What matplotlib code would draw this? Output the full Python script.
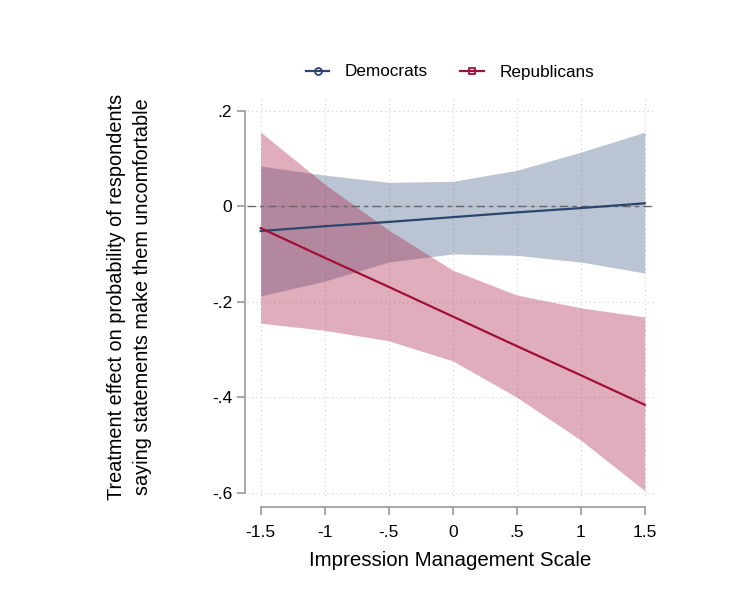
import matplotlib
matplotlib.use("Agg")
import matplotlib.pyplot as plt
import numpy as np

plt.rcParams['font.family'] = ['Liberation Sans', 'DejaVu Sans']

x = [-1.5, -1.0, -0.5, 0.0, 0.5, 1.0, 1.5]
dem_est = [-0.052, -0.042, -0.033, -0.023, -0.013, -0.004, 0.006]
dem_lo = [-0.188, -0.157, -0.117, -0.100, -0.103, -0.117, -0.140]
dem_hi = [0.084, 0.065, 0.050, 0.052, 0.075, 0.113, 0.155]
rep_est = [-0.046, -0.108, -0.169, -0.231, -0.293, -0.354, -0.416]
rep_lo = [-0.245, -0.260, -0.282, -0.324, -0.400, -0.490, -0.596]
rep_hi = [0.155, 0.046, -0.050, -0.134, -0.186, -0.213, -0.232]

xticks = [-1.5, -1, -0.5, 0, 0.5, 1, 1.5]
xticklabels = ["-1.5", "-1", "-.5", "0", ".5", "1", "1.5"]
yticks = [0.2, 0, -0.2, -0.4, -0.6]
yticklabels = [".2", "0", "-.2", "-.4", "-.6"]

dem_col = (0.17, 0.27, 0.43)
rep_col = (0.64, 0.06, 0.23)
dem_fill = (58/255, 86/255, 126/255)
rep_fill = (166/255, 21/255, 61/255)

fig = plt.figure(figsize=(7.5, 6), dpi=100)
ax = fig.add_axes([0.329, 0.167, 0.544, 0.67])

ax.fill_between(x, dem_lo, dem_hi, color=dem_fill, alpha=0.35, linewidth=0, zorder=1)
ax.fill_between(x, rep_lo, rep_hi, color=rep_fill, alpha=0.35, linewidth=0, zorder=2)
ax.axhline(0, color='#666666', linestyle=(0, (6, 3, 3, 3)), linewidth=1.0, zorder=3)
ax.plot(x, dem_est, color=dem_col, linewidth=1.6, zorder=4)
ax.plot(x, rep_est, color=rep_col, linewidth=1.6, zorder=5)

ax.set_xlim(-1.609, 1.578)
ax.set_ylim(-0.615, 0.227)

ax.set_xticks(xticks)
ax.set_xticklabels(xticklabels)
ax.set_yticks(yticks)
ax.set_yticklabels(yticklabels)

ax.grid(True, color='#cccccc', linestyle=(0, (1, 3)), linewidth=0.8, zorder=0)
ax.set_axisbelow(True)

for s in ['top', 'right']:
    ax.spines[s].set_visible(False)
ax.spines['bottom'].set_bounds(-1.5, 1.5)
ax.spines['left'].set_bounds(-0.6, 0.2)
ax.spines['bottom'].set_position(('outward', 5))
ax.spines['left'].set_position(('outward', 1))
for s in ['bottom', 'left']:
    ax.spines[s].set_color('#999999')
    ax.spines[s].set_linewidth(1.2)
ax.tick_params(axis='both', direction='out', length=6, width=1.2, color='#999999',
               labelsize=12.5, labelcolor='black')
ax.tick_params(axis='x', pad=7)

fig.text(0.173, 0.505, "Treatment effect on probability of respondents\nsaying statements make them uncomfortable",
         rotation=90, ha='center', va='center', multialignment='center', fontsize=14.3,
         linespacing=1.45)
fig.text(0.6, 0.066, "Impression Management Scale", ha='center', va='center', fontsize=14.8)

h1, = ax.plot([], [], color=dem_col, marker='o', markerfacecolor='none', markeredgecolor=dem_col,
              markersize=5, markeredgewidth=1.3, linewidth=1.6)
h2, = ax.plot([], [], color=rep_col, marker='s', markerfacecolor='none', markeredgecolor=rep_col,
              markersize=5, markeredgewidth=1.3, linewidth=1.6)
fig.legend([h1, h2], ["Democrats", "Republicans"], loc='center', bbox_to_anchor=(0.6, 0.88),
           ncol=2, frameon=False, fontsize=12.3, handlelength=1.4, columnspacing=1.9, handletextpad=0.9)

fig.savefig("out.png", dpi=100)
